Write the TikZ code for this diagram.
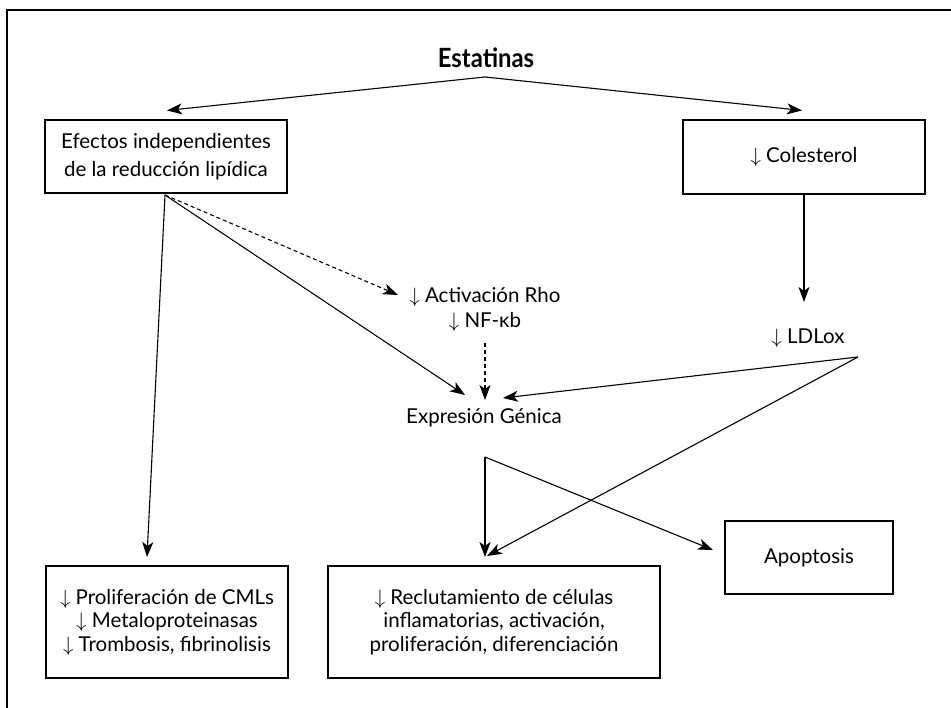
\documentclass[tikz,border=0pt]{standalone}
\usepackage{fontspec}
\setmainfont{Lato}
\newfontfamily\titlefont[FakeStretch=0.9]{Lato}
\usetikzlibrary{arrows.meta}
\begin{document}
\begin{tikzpicture}[x=1pt,y=-1pt,
  body/.style={font=\fontsize{20.5}{25}\selectfont, align=center, inner sep=0pt},
  box/.style={body, draw, line width=1.1pt},
  titlestyle/.style={font=\titlefont\bfseries\fontsize{26.5}{30}\selectfont, inner sep=0pt},
  arr/.style={-{Stealth[length=15pt,width=11pt,inset=4pt]}, line width=1.1pt},
  darr/.style={arr, dash pattern=on 4pt off 3pt}]
\useasboundingbox (0,0) rectangle (951,708);
\draw[line width=1.6pt] (7,708) -- (7,10) -- (951,10);

\node[titlestyle] (est) at (486,58) {Estatinas};
\coordinate (apex) at (485,77);

\node[box, minimum width=242pt, minimum height=73pt, font=\fontsize{20.5}{28}\selectfont] (efe) at (166,156.5) {Efectos independientes\\de la reducción lipídica};
\node[box, minimum width=242pt, minimum height=74pt] (col) at (804,157) {$\downarrow$ Colesterol};
\node[body] (ldl) at (808,338) {$\downarrow$ LDLox};
\node[body] (rho) at (485,309.5) {$\downarrow$ Activación Rho\\$\downarrow$ NF-κb};
\node[body] (exp) at (484,418) {Expresión Génica};

\node[box, minimum width=242pt, minimum height=112pt, font=\fontsize{20.5}{23.5}\selectfont] (pro) at (167,622) {$\downarrow$ Proliferación de CMLs\\$\downarrow$ Metaloproteinasas\\$\downarrow$ Trombosis, fibrinolisis};
\node[box, minimum width=332pt, minimum height=112pt, font=\fontsize{20.5}{23.5}\selectfont] (rec) at (494,622) {$\downarrow$ Reclutamiento de células\\inflamatorias, activación,\\proliferación, diferenciación};
\node[box, minimum width=168pt, minimum height=73pt] (apo) at (809,557.5) {Apoptosis};

\coordinate (efs) at (165,195);
\coordinate (rhotip) at (398,295);
\coordinate (expL) at (465,395);
\coordinate (rhos) at (485,343);
\coordinate (expT) at (485,400);
\coordinate (ldls) at (858,357);
\coordinate (expR) at (503,398);
\coordinate (split) at (485,457);
\coordinate (recA) at (485,557);
\coordinate (recB) at (487,556);
\coordinate (apoT) at (713,550);
\coordinate (proT) at (147,557);

\draw[arr] (apex) -- ([xshift=1pt,yshift=9pt]efe.north);
\draw[arr] (apex) -- ([xshift=-2pt,yshift=9pt]col.north);
\draw[arr] (col.south) -- (804,302);
\draw[arr] (efs) -- (proT);
\draw[darr] (efs) -- (rhotip);
\draw[arr] (efs) -- (expL);
\draw[darr] (rhos) -- (expT);
\draw[arr] (ldls) -- (expR);
\draw[arr] (ldls) -- (recB);
\draw[arr] (split) -- (recA);
\draw[arr] (split) -- (apoT);
\end{tikzpicture}
\end{document}
